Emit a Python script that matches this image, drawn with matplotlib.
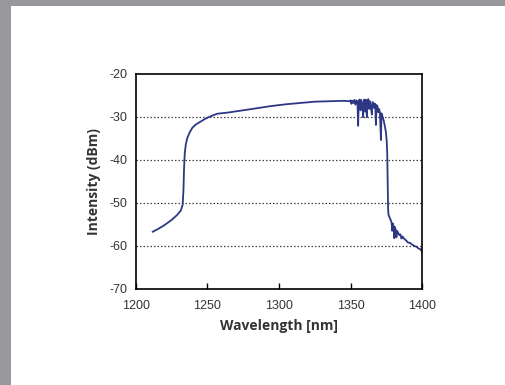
import matplotlib
matplotlib.use("Agg")
import matplotlib.pyplot as plt
from matplotlib.patches import Rectangle

plt.rcParams["axes.unicode_minus"] = False

# spectrum, nm / dBm
wl_edge = [1212, 1216, 1220, 1225, 1229, 1231.5, 1232.8, 1233.4, 1233.8, 1234.3, 1235, 1236,
           1237.5, 1239.5, 1242, 1245, 1249, 1253, 1257]
db_edge = [-56.7, -56.0, -55.2, -54.0, -52.8, -51.8, -50.5, -47, -42, -38.5, -36.5, -35,
           -33.8, -32.6, -31.8, -31.2, -30.4, -29.8, -29.3]

wl_flat = [1265, 1275, 1285, 1295, 1305, 1315, 1325, 1335, 1345, 1349]
db_flat = [-29.0, -28.5, -28.0, -27.5, -27.1, -26.8, -26.5, -26.4, -26.3, -26.4]

wl_noisy = [1350, 1350.6, 1351.2, 1352, 1352.6, 1353.4, 1354, 1354.8, 1355.3, 1355.7, 1356.3,
            1357, 1357.4, 1358.3, 1358.8, 1359.2, 1359.8, 1360.4, 1360.8, 1361.4, 1361.8,
            1362.4, 1363, 1363.5, 1364.2, 1364.9, 1365.3, 1366, 1366.6, 1367.2, 1367.7,
            1368.1, 1368.8, 1369.4, 1369.9, 1370.5, 1371.2, 1371.6, 1372.4, 1373.2, 1374,
            1374.7, 1375.2, 1375.6, 1375.9, 1376.2, 1376.5]
db_noisy = [-26.2, -27.0, -26.3, -26.8, -26.1, -27.2, -26.2, -26.5, -32.1, -26.4, -26.0,
            -28.5, -26.1, -27.5, -30.1, -26.2, -26.0, -28.8, -26.1, -30.1, -26.3,
            -25.9, -28.2, -26.4, -27.8, -29.5, -26.6, -26.8, -28.0, -27.0, -31.9,
            -27.3, -27.6, -29.0, -28.2, -29.0, -35.4, -29.2, -30.0, -31.0, -32.3,
            -33.6, -35.5, -38.5, -45, -51.5, -52.8]

wl_tail = [1377.3, 1378, 1378.6, 1379.1, 1379.5, 1380, 1380.5, 1380.9, 1381.5, 1382, 1382.5,
           1383.3, 1384, 1384.8, 1385.5, 1386.3, 1387, 1388, 1389, 1390, 1391.5, 1393,
           1394.5, 1396, 1397.5, 1399, 1400]
db_tail = [-53.4, -54.0, -54.5, -56.5, -54.8, -55.3, -58.2, -55.6, -56.2, -58.0, -56.5,
           -57.0, -57.5, -57.3, -58.3, -57.8, -58.2, -58.5, -58.8, -59.2, -59.3, -59.7,
           -60.0, -60.2, -60.6, -60.8, -61.5]

xticks = [1200, 1250, 1300, 1350, 1400]
yticks = [-70, -60, -50, -40, -30, -20]

wl = wl_edge + wl_flat + wl_noisy + wl_tail
db = db_edge + db_flat + db_noisy + db_tail

fig = plt.figure(figsize=(5.06, 3.85), dpi=100)
fig.patch.set_facecolor("#97989c")
# white page on the gray frame
fig.patches.append(Rectangle((11 / 506, 0), 1, 1 - 6 / 385, transform=fig.transFigure,
                             facecolor="white", edgecolor="none", zorder=-5))

ax = fig.add_axes([0.268, 0.2494, 0.5664, 0.5592])
ax.plot(wl, db, color="#2e3784", lw=1.3)

for y in [-60, -50, -40, -30]:
    ax.axhline(y, color="#444444", lw=0.9, ls=(0, (1.2, 1.6)), zorder=0)

ax.set_xlim(1200, 1400)
ax.set_ylim(-70, -20)
ax.set_xticks(xticks)
ax.set_yticks(yticks)
ax.tick_params(axis="x", direction="in", length=4, width=1, pad=8,
               labelsize=9, labelcolor="#333333")
ax.tick_params(axis="y", length=0, pad=6, labelsize=9, labelcolor="#333333")
for lab in ax.get_xticklabels() + ax.get_yticklabels():
    lab.set_family("Liberation Sans")
for s in ax.spines.values():
    s.set_linewidth(1.2)

ax.set_xlabel("Wavelength [nm]", fontsize=10, fontweight="bold", color="#333333",
              family="Open Sans", labelpad=5)
ax.set_ylabel("Intensity (dBm)", fontsize=10, fontweight="bold", color="#333333",
              family="Open Sans", labelpad=6)

fig.savefig("out.png", dpi=100, facecolor=fig.get_facecolor())
